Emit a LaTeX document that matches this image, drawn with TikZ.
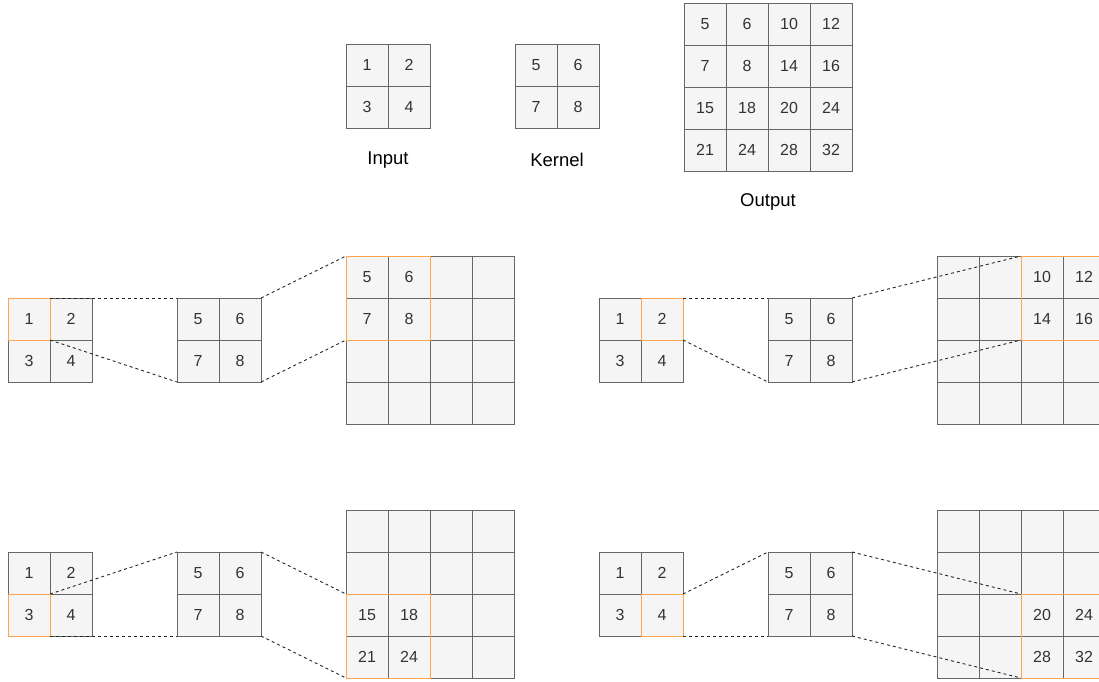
\documentclass[tikz,border=0pt]{standalone}
\usepackage{fontspec}
\setmainfont{Liberation Sans}
\usetikzlibrary{fit}
\definecolor{cellfill}{HTML}{F5F5F5}
\definecolor{cellgray}{HTML}{666666}
\definecolor{txt}{HTML}{333333}
\definecolor{hlorange}{HTML}{FFA64D}
\tikzset{
  cell/.style={draw=cellgray, fill=cellfill, minimum size=42pt, inner sep=0pt, outer sep=0pt,
    text=txt, font=\fontsize{16}{16}\selectfont, anchor=north west, line width=1pt},
  hl/.style={draw=hlorange, line width=1pt, inner sep=0pt, outer sep=0pt},
  conn/.style={draw=black!85, line width=0.9pt, dash pattern=on 3pt off 3pt},
  lbl/.style={font=\fontsize{18.5}{18.5}\selectfont, text=black, inner sep=0pt}
}
\newcommand\mygrid[5]{%
  \foreach \t [count=\i from 0] in {#5} {
    \pgfmathtruncatemacro\rr{int(\i/#4)}
    \pgfmathtruncatemacro\cc{mod(\i,#4)}
    \node[cell] (#1-\rr\cc) at ({#2+42*\cc},{#3+42*\rr}) {\t};
  }}
\begin{document}
\begin{tikzpicture}[x=1pt,y=-1pt]
\useasboundingbox (0,0) rectangle (1099,681);
% top row
\mygrid{tin}{346}{44}{2}{1,2,3,4}
\mygrid{tk}{515}{44}{2}{5,6,7,8}
\mygrid{tout}{684}{3}{4}{5,6,10,12,7,8,14,16,15,18,20,24,21,24,28,32}
\node[lbl] (linput) at (388,160) {Input};
\node[lbl] (lkernel) at (557,160) {Kernel};
\node[lbl] (loutput) at (768,202) {Output};
% panel A
\mygrid{ain}{8}{298}{2}{1,2,3,4}
\mygrid{ak}{177}{298}{2}{5,6,7,8}
\mygrid{aout}{346}{256}{4}{5,6,{},{},7,8,{},{},{},{},{},{},{},{},{},{}}
\node[hl, fit=(ain-00)] (ahin) {};
\node[hl, fit=(aout-00)(aout-11)] (ahout) {};
\draw[conn] (ahin.north east) -- (ak-00.north west);
\draw[conn] (ahin.south east) -- (ak-10.south west);
\draw[conn] (ak-01.north east) -- (ahout.north west);
\draw[conn] (ak-11.south east) -- (ahout.south west);
% panel B
\mygrid{bin}{599}{298}{2}{1,2,3,4}
\mygrid{bk}{768}{298}{2}{5,6,7,8}
\mygrid{bout}{937}{256}{4}{{},{},10,12,{},{},14,16,{},{},{},{},{},{},{},{}}
\node[hl, fit=(bin-01)] (bhin) {};
\node[hl, fit=(bout-02)(bout-13)] (bhout) {};
\draw[conn] (bhin.north east) -- (bk-00.north west);
\draw[conn] (bhin.south east) -- (bk-10.south west);
\draw[conn] (bk-01.north east) -- (bhout.north west);
\draw[conn] (bk-11.south east) -- (bhout.south west);
% panel C
\mygrid{cin}{8}{552}{2}{1,2,3,4}
\mygrid{ck}{177}{552}{2}{5,6,7,8}
\mygrid{cout}{346}{510}{4}{{},{},{},{},{},{},{},{},15,18,{},{},21,24,{},{}}
\node[hl, fit=(cin-10)] (chin) {};
\node[hl, fit=(cout-20)(cout-31)] (chout) {};
\draw[conn] (chin.north east) -- (ck-00.north west);
\draw[conn] (chin.south east) -- (ck-10.south west);
\draw[conn] (ck-01.north east) -- (chout.north west);
\draw[conn] (ck-11.south east) -- (chout.south west);
% panel D
\mygrid{din}{599}{552}{2}{1,2,3,4}
\mygrid{dk}{768}{552}{2}{5,6,7,8}
\mygrid{dout}{937}{510}{4}{{},{},{},{},{},{},{},{},{},{},20,24,{},{},28,32}
\node[hl, fit=(din-11)] (dhin) {};
\node[hl, fit=(dout-22)(dout-33)] (dhout) {};
\draw[conn] (dhin.north east) -- (dk-00.north west);
\draw[conn] (dhin.south east) -- (dk-10.south west);
\draw[conn] (dk-01.north east) -- (dhout.north west);
\draw[conn] (dk-11.south east) -- (dhout.south west);
\end{tikzpicture}
\end{document}
